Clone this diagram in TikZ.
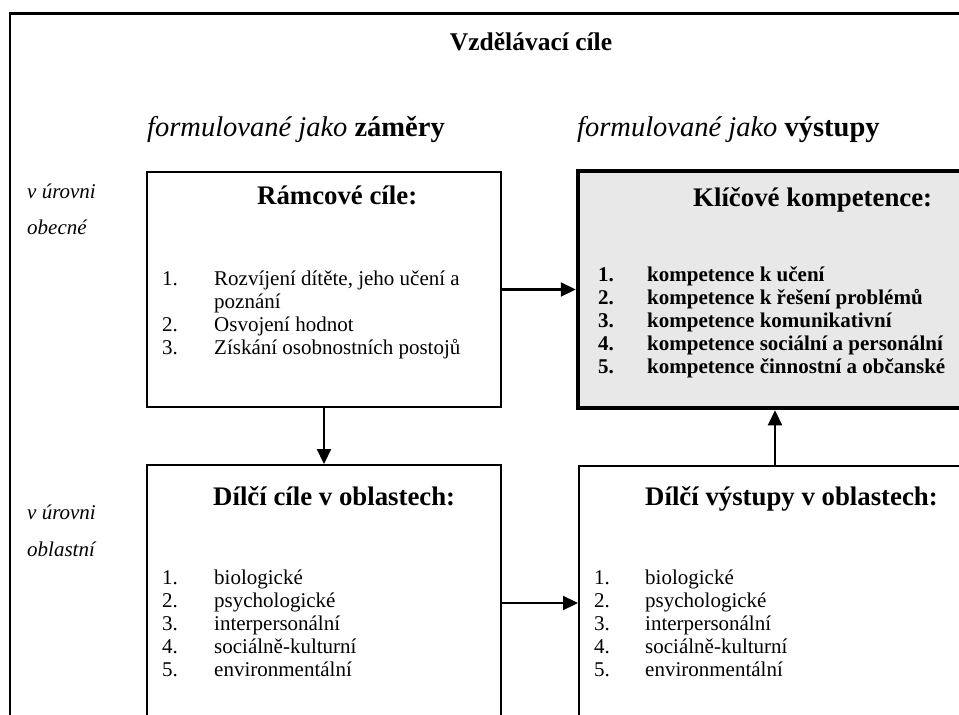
\documentclass[tikz,border=0pt]{standalone}
\usepackage{fontspec}
\setmainfont{Liberation Serif}
\usetikzlibrary{arrows.meta}
\definecolor{boxgray}{RGB}{232,232,232}
\newcommand{\fsTitle}{\fontsize{25.5}{29}\selectfont}
\newcommand{\fsSub}{\fontsize{28.5}{32}\selectfont}
\newcommand{\fsHead}{\fontsize{26.8}{30}\selectfont}
\newcommand{\fsList}{\fontsize{21}{23}\selectfont}
\newcommand{\fsSide}{\fontsize{21}{23}\selectfont}
\tikzset{
  panel/.style={draw, line width=2pt, inner sep=0pt},
  keypanel/.style={draw, line width=4.5pt, fill=boxgray, inner sep=0pt},
  conn/.style={line width=2.2pt, -{Triangle[length=15pt,width=14pt]}},
  txt/.style={inner sep=0pt, anchor=base west, align=left},
  frame/.style={line width=2.6pt},
}
\begin{document}
\begin{tikzpicture}[x=1pt,y=-1pt]
\useasboundingbox (0,0) rectangle (959,715);
\clip (0,0) rectangle (959,715);
\fill[white] (0,0) rectangle (959,715);
% outer frame
\draw[frame] (10,760) -- (10,13.5) -- (1000,13.5);
% boxes
\node[panel, minimum width=354pt, minimum height=235pt] (ram) at (324,289.5) {};
\node[keypanel, minimum width=460pt, minimum height=237pt] (klic) at (808,289.5) {};
\node[panel, minimum width=354pt, minimum height=300pt] (dc) at (324,615) {};
\node[panel, minimum width=460pt, minimum height=300pt] (dv) at (809,616) {};
% texts
\node[txt, anchor=base] (title) at (531,50) {\fsTitle\bfseries Vzdělávací cíle};
\node[txt] (subL) at (147,136) {\fsSub\itshape formulované jako \upshape\bfseries záměry};
\node[txt] (subR) at (577,136) {\fsSub\itshape formulované jako \upshape\bfseries výstupy};
\node[txt] (sideA) at (27,198) {\fsSide\itshape v úrovni};
\node[txt] (sideB) at (27,234) {\fsSide\itshape obecné};
\node[txt] (sideC) at (27,519) {\fsSide\itshape v úrovni};
\node[txt] (sideD) at (27,556) {\fsSide\itshape oblastní};
\node[txt] (hram) at (257,204) {\fsHead\bfseries Rámcové cíle:};
\node[txt] (hklic) at (693,206) {\fsHead\bfseries Klíčové kompetence:};
\node[txt] (hdc) at (213,505) {\fsHead\bfseries Dílčí cíle v oblastech:};
\node[txt] (hdv) at (645,505) {\fsHead\bfseries Dílčí výstupy v oblastech:};
\node[txt] (lram) at (162,285) {\fsList\begin{tabular}[t]{@{}p{52pt}@{}l@{}}
1. & Rozvíjení dítěte, jeho učení a\\
 & poznání\\
2. & Osvojení hodnot\\
3. & Získání osobnostních postojů
\end{tabular}};
\node[txt] (lklic) at (598,281) {\fsList\bfseries\begin{tabular}[t]{@{}p{49pt}@{}l@{}}
1. & kompetence k učení\\
2. & kompetence k řešení problémů\\
3. & kompetence komunikativní\\
4. & kompetence sociální a personální\\
5. & kompetence činnostní a občanské
\end{tabular}};
\node[txt] (ldc) at (162,584) {\fsList\begin{tabular}[t]{@{}p{52pt}@{}l@{}}
1. & biologické\\
2. & psychologické\\
3. & interpersonální\\
4. & sociálně-kulturní\\
5. & environmentální
\end{tabular}};
\node[txt] (ldv) at (594,584) {\fsList\begin{tabular}[t]{@{}p{51pt}@{}l@{}}
1. & biologické\\
2. & psychologické\\
3. & interpersonální\\
4. & sociálně-kulturní\\
5. & environmentální
\end{tabular}};
% connectors
\draw[conn] (ram.east) -- (ram.east -| klic.west);
\draw[conn] (ram.south) -- (ram.south |- dc.north);
\coordinate (m1) at (501,603);
\draw[conn] (dc.east |- m1) -- (dv.west |- m1);
\coordinate (m2) at (775,440);
\draw[conn] (dv.north -| m2) -- (klic.south -| m2);
\end{tikzpicture}
\end{document}
